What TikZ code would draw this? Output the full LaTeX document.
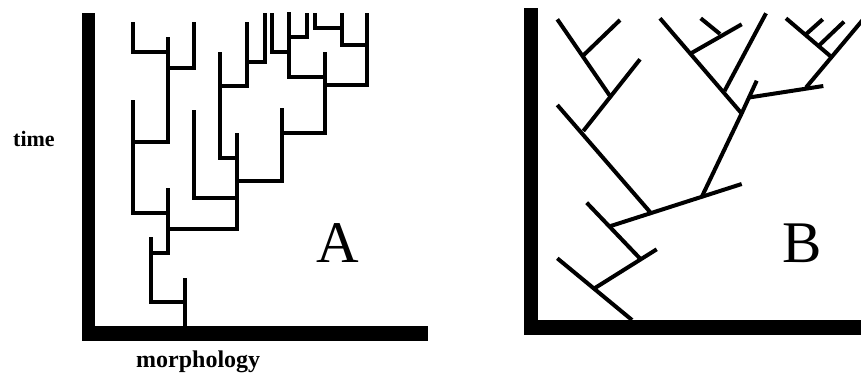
\documentclass[tikz,border=0pt]{standalone}
\usepackage{fontspec}
\setmainfont{Liberation Serif}
\begin{document}
\begin{tikzpicture}[x=1pt,y=-1pt,
  branch/.style={line width=4pt,line cap=butt,line join=miter},
  axisbar/.style={fill=black,draw=none},
  lbl/.style={inner sep=0pt,anchor=base west,font=\bfseries\fontsize{22}{24}\selectfont},
  big/.style={inner sep=0pt,anchor=base west,font=\fontsize{59}{60}\selectfont}]
\useasboundingbox (0,0) rectangle (861,376);
% ---- panel A axes
\fill[axisbar] (82,13) rectangle (95,341);
\fill[axisbar] (82,326) rectangle (428,341);
% ---- panel A tree
\draw[branch] (185,326) -- (185,278);
\draw[branch] (151,237) -- (151,302) -- (187,302);
\draw[branch] (149,253) -- (168,253);
\draw[branch] (168,188) -- (168,255);
\draw[branch] (166,229) -- (237,229);
\draw[branch] (237,133) -- (237,231);
\draw[branch] (133,100) -- (133,213) -- (170,213);
\draw[branch] (131,142) -- (168,142);
\draw[branch] (168,37) -- (168,144);
\draw[branch] (133,22) -- (133,52) -- (170,52);
\draw[branch] (166,68) -- (194,68) -- (194,22);
\draw[branch] (194,110) -- (194,198) -- (239,198);
\draw[branch] (235,181) -- (282,181) -- (282,108);
\draw[branch] (280,133) -- (325,133) -- (325,52);
\draw[branch] (323,85) -- (367,85) -- (367,13);
\draw[branch] (342,13) -- (342,45) -- (369,45);
\draw[branch] (315,13) -- (315,28) -- (344,28);
\draw[branch] (289,12) -- (289,77) -- (327,77);
\draw[branch] (287,37) -- (307,37) -- (307,13);
\draw[branch] (272,13) -- (272,52) -- (291,52);
\draw[branch] (220,52) -- (220,158) -- (239,158);
\draw[branch] (218,86) -- (247,86) -- (247,22);
\draw[branch] (245,62) -- (265,62) -- (265,13);
% ---- panel A labels
\node[lbl] (time) at (13,146.7) {time};
\node[lbl,font=\bfseries\fontsize{24}{26}\selectfont] (morph) at (136,367) {morphology};
\node[big] (labA) at (316,262.7) {A};
% ---- panel B axes
\fill[axisbar] (524,8) rectangle (538,335);
\fill[axisbar] (524,320) rectangle (861,335);
% ---- panel B tree
\begin{scope}
\clip (0,0) rectangle (861,376);
\draw[branch] (632,320) -- (557.3,258.3);
\draw[branch] (595,288) -- (656.7,249.3);
\draw[branch] (640,258.5) -- (586.7,202.7);
\draw[branch] (610.7,226) -- (741.7,184);
\draw[branch] (650,212) -- (557.3,105);
\draw[branch] (583.3,131) -- (640,59.3);
\draw[branch] (610,96) -- (557.3,19.3);
\draw[branch] (582.7,56) -- (620,20);
\draw[branch] (701.7,197) -- (741.7,113.3) -- (756.7,80.7);
\draw[branch] (660,18.3) -- (742.5,114.5);
\draw[branch] (724.5,91) -- (766,13.3);
\draw[branch] (690.7,53.5) -- (741.7,24.3);
\draw[branch] (720,34) -- (700.7,18.3);
\draw[branch] (749,97.5) -- (823.3,86);
\draw[branch] (806,87.5) -- (866,16);
\draw[branch] (832,57.5) -- (786,18.3);
\draw[branch] (806.2,34) -- (822.7,19.3);
\draw[branch] (818.5,46) -- (844,21.7);
\end{scope}
\node[big] (labB) at (782,262.3) {B};
\end{tikzpicture}
\end{document}
